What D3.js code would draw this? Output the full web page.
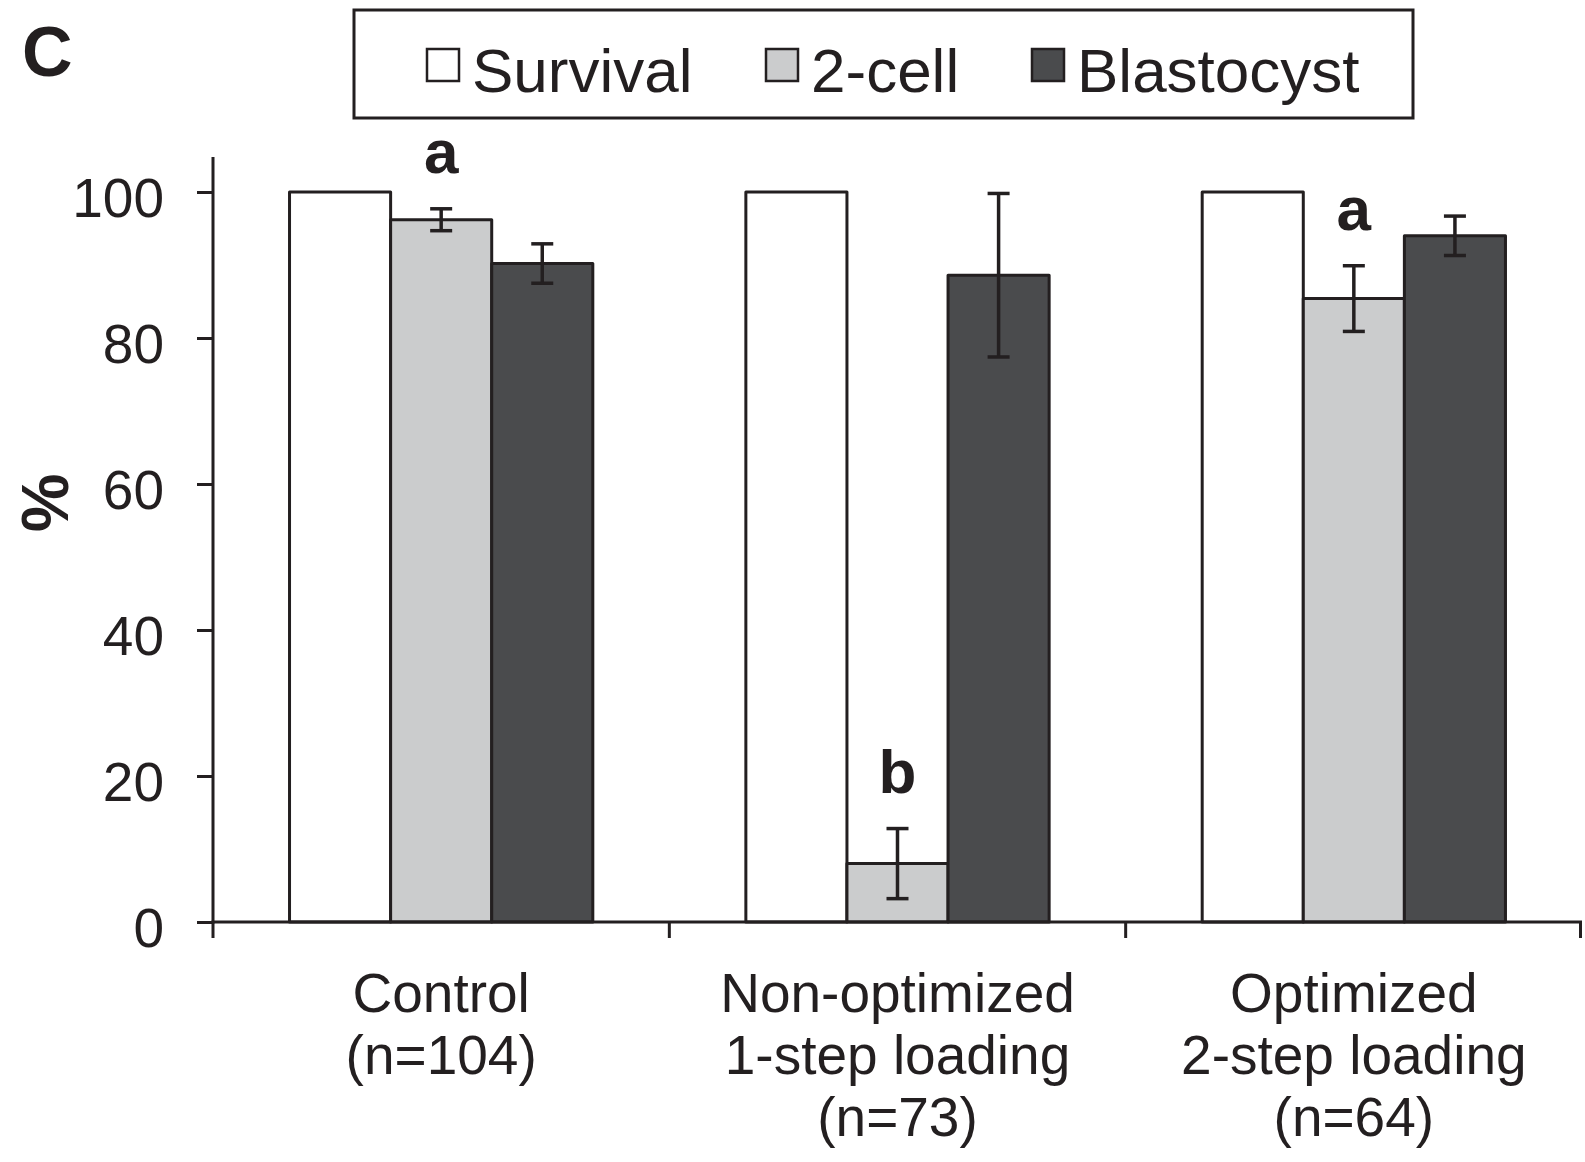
<!DOCTYPE html>
<html>
<head>
<meta charset="utf-8">
<script src="https://cdn.jsdelivr.net/npm/d3@7"></script>
<style>
  html, body { margin: 0; padding: 0; background: #fff; }
  svg { display: block; }
  text { font-family: "Liberation Sans", Arial, Helvetica, sans-serif; fill: #231f20; }
</style>
</head>
<body>
<svg id="chart" width="1585" height="1162"></svg>
<script>
// Groups (x-axis categories), one text line per row
const categoryLines = [
  ["Control", "(n=104)"],
  ["Non-optimized", "1-step loading", "(n=73)"],
  ["Optimized", "2-step loading", "(n=64)"]
];
const seriesNames = ["Survival", "2-cell", "Blastocyst"];
const seriesFill = ["#ffffff", "#cbcccd", "#4a4b4d"];

// Percentages per group
const survival = [100, 100, 100];
const twoCell = [96.2, 8.0, 85.4];
const blastocyst = [90.2, 88.6, 94.0];

// Error bar half-widths (null = none drawn)
const survivalErr = [null, null, null];
const twoCellErr = [1.5, 4.8, 4.5];
const blastocystErr = [2.7, 11.2, 2.7];

// Significance letters above the 2-cell bars
const twoCellLetters = ["a", "b", "a"];

const yTicks = [0, 20, 40, 60, 80, 100];

const ink = "#231f20";
const svg = d3.select("#chart");

const plot = { left: 213, right: 1582, top: 157, bottom: 922, yMaxPx: 192 };

const x0 = d3.scaleBand()
  .domain(d3.range(categoryLines.length))
  .range([plot.left, plot.right])
  .paddingInner(0).paddingOuter(0);

const x1 = d3.scaleBand()
  .domain(seriesNames)
  .range([0, x0.bandwidth()])
  .paddingInner(0).paddingOuter(0.757);

const y = d3.scaleLinear().domain([0, 100]).range([plot.bottom, plot.yMaxPx]);

const values = [survival, twoCell, blastocyst];
const errors = [survivalErr, twoCellErr, blastocystErr];

const rows = [];
categoryLines.forEach((_, gi) => {
  seriesNames.forEach((s, si) => {
    rows.push({ gi, si, name: s, value: values[si][gi], err: errors[si][gi] });
  });
});

// Bars
const g = svg.append("g");
g.selectAll("rect.bar").data(rows).join("rect")
  .attr("class", "bar")
  .attr("x", d => x0(d.gi) + x1(d.name))
  .attr("y", d => y(d.value))
  .attr("width", x1.bandwidth())
  .attr("height", d => y(0) - y(d.value))
  .attr("fill", d => seriesFill[d.si])
  .attr("stroke", ink)
  .attr("stroke-width", 3)
  .attr("stroke-linejoin", "round");

// Error bars
const capHalf = 11;
const eb = g.selectAll("g.err").data(rows.filter(d => d.err != null)).join("g")
  .attr("class", "err")
  .attr("stroke", ink)
  .attr("stroke-width", 3.5);
eb.append("line")
  .attr("x1", d => x0(d.gi) + x1(d.name) + x1.bandwidth() / 2)
  .attr("x2", d => x0(d.gi) + x1(d.name) + x1.bandwidth() / 2)
  .attr("y1", d => y(d.value + d.err))
  .attr("y2", d => y(d.value - d.err));
[1, -1].forEach(sign => {
  eb.append("line")
    .attr("x1", d => x0(d.gi) + x1(d.name) + x1.bandwidth() / 2 - capHalf)
    .attr("x2", d => x0(d.gi) + x1(d.name) + x1.bandwidth() / 2 + capHalf)
    .attr("y1", d => y(d.value + sign * d.err))
    .attr("y2", d => y(d.value + sign * d.err));
});

// Significance letters
g.selectAll("text.sig").data(twoCellLetters).join("text")
  .attr("class", "sig")
  .attr("x", (d, i) => x0(i) + x1("2-cell") + x1.bandwidth() / 2)
  .attr("y", (d, i) => y(twoCell[i] + twoCellErr[i]) - 36)
  .attr("text-anchor", "middle")
  .attr("font-size", 62)
  .attr("font-weight", "bold")
  .text(d => d);

// Y axis
const yAxis = d3.axisLeft(y).tickValues(yTicks).tickSize(16).tickPadding(33).tickFormat(d3.format("d"));
const ya = svg.append("g").attr("transform", `translate(${plot.left},0)`).call(yAxis);
ya.select(".domain").remove();
ya.selectAll(".tick line").attr("stroke", ink).attr("stroke-width", 3);
ya.selectAll(".tick text").attr("font-size", 55).attr("dy", "0.44em")
  .style("font-family", "'Liberation Sans', Arial, sans-serif").attr("fill", ink);
svg.append("line")
  .attr("x1", plot.left).attr("x2", plot.left)
  .attr("y1", plot.top).attr("y2", plot.bottom + 1.5)
  .attr("stroke", ink).attr("stroke-width", 3);

// X axis with ticks at group boundaries
svg.append("line")
  .attr("x1", plot.left - 1.5).attr("x2", plot.right)
  .attr("y1", plot.bottom).attr("y2", plot.bottom)
  .attr("stroke", ink).attr("stroke-width", 3);
const boundaries = d3.range(categoryLines.length + 1).map(i => plot.left + i * x0.step());
svg.selectAll("line.xtick").data(boundaries).join("line")
  .attr("class", "xtick")
  .attr("x1", d => Math.min(d, plot.right - 1.5)).attr("x2", d => Math.min(d, plot.right - 1.5))
  .attr("y1", plot.bottom).attr("y2", plot.bottom + 16)
  .attr("stroke", ink).attr("stroke-width", 3);

// Category labels
const cl = svg.selectAll("text.cat").data(categoryLines).join("text")
  .attr("class", "cat")
  .attr("text-anchor", "middle")
  .attr("font-size", 55)
  .attr("transform", (d, i) => `translate(${x0(i) + x0.bandwidth() / 2},${plot.bottom + 90})`);
cl.selectAll("tspan").data(d => d).join("tspan")
  .attr("x", 0)
  .attr("y", (d, i) => i * 62)
  .text(d => d);

// Y axis title
svg.append("text")
  .attr("transform", "translate(68,503) rotate(-90)")
  .attr("text-anchor", "middle")
  .attr("font-size", 66)
  .attr("font-weight", "bold")
  .text("%");

// Panel letter
svg.append("text")
  .attr("x", 22).attr("y", 76)
  .attr("font-size", 70)
  .attr("font-weight", "bold")
  .text("C");

// Legend
const legend = svg.append("g");
legend.append("rect")
  .attr("x", 354).attr("y", 10).attr("width", 1059).attr("height", 108)
  .attr("fill", "#fff").attr("stroke", ink).attr("stroke-width", 3);
const legendX = [426, 765, 1031];
const li = legend.selectAll("g.item").data(seriesNames).join("g")
  .attr("class", "item")
  .attr("transform", (d, i) => `translate(${legendX[i]},0)`);
li.append("rect")
  .attr("x", 1).attr("y", 49).attr("width", 32).attr("height", 32)
  .attr("fill", (d, i) => seriesFill[i])
  .attr("stroke", ink).attr("stroke-width", 2.5);
li.append("text")
  .attr("x", 46).attr("y", 92)
  .attr("font-size", 62)
  .text(d => d);
</script>
</body>
</html>
